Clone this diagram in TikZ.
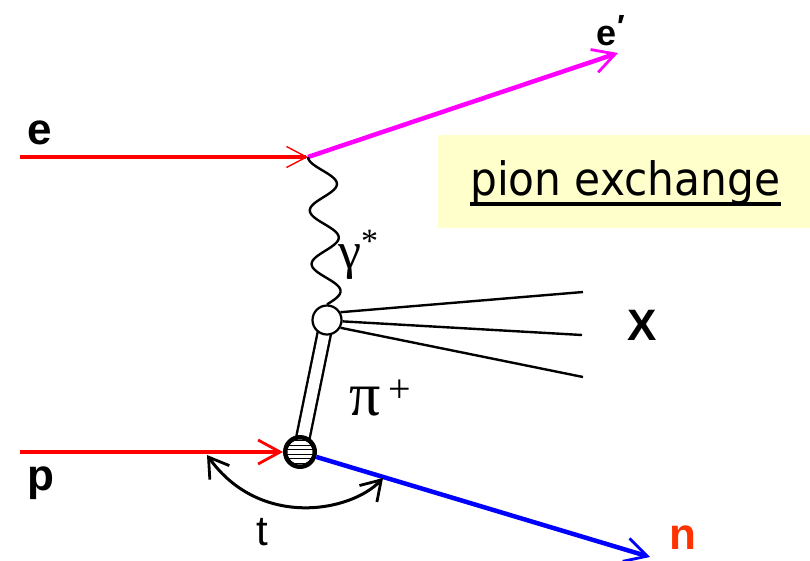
\documentclass[tikz,border=0pt]{standalone}
\usepackage{fontspec}
\setmainfont{Liberation Sans}
\newfontfamily\grk{Liberation Serif}
\newfontfamily\boxfont{DejaVu Sans}
\usetikzlibrary{arrows.meta,calc}
\pgfdeclarelayer{bg}
\pgfsetlayers{bg,main}
\definecolor{eRed}{HTML}{FF0000}
\definecolor{eMag}{HTML}{FF00FF}
\definecolor{nBlue}{HTML}{0000FF}
\definecolor{nOrange}{HTML}{FF3300}
\definecolor{boxYellow}{HTML}{FFFFCC}
\begin{document}
\begin{tikzpicture}[x=1pt,y=-1pt,
  tipthin/.style={-{Straight Barb[length=20pt,width=21pt,line width=1.4pt]}},
  tipthick/.style={-{Straight Barb[length=22pt,width=24pt,line width=2.8pt]}},
  vtx/.style={circle,draw,fill=white,inner sep=0pt},
  lab/.style={anchor=base west,inner sep=0pt,font=\bfseries\fontsize{44}{44}\selectfont},
  hadron/.style={line width=2.4pt},
]
\useasboundingbox (0,0) rectangle (810,560);
% box
\fill[boxYellow] (438,135) rectangle (810,228);
\node[anchor=base west,inner sep=0pt,font=\boxfont\fontsize{46}{46}\selectfont] (ptext) at (470,195) {\scalebox{0.92}[1]{pion exchange}};
\draw[line width=4pt] ($(ptext.base west)+(0,8.5)$) -- ($(ptext.base east)+(0,8.5)$);

% coordinates
\coordinate (estart) at (20,157);
\coordinate (v1) at (308,157);
\coordinate (eout) at (618,53);
\coordinate (pstart) at (20,452);
\coordinate (nout) at (650,557);
\coordinate (x1) at (583,292);
\coordinate (x2) at (582,335);
\coordinate (x3) at (583,377);
\coordinate (tA) at (207,455);
\coordinate (tB) at (383,478);

\node[vtx,line width=2.2pt,minimum size=29pt] (top) at (327,320) {};
\node[vtx,line width=3pt,minimum size=31pt] (bot) at (300,452) {};
\begin{scope}
  \clip (bot.center) circle (14pt);
  \foreach \dy in {-11.25,-6.75,-2.25,2.25,6.75,11.25}
    \draw[line width=1pt] ($(bot.center)+(-16,\dy)$) -- ($(bot.center)+(16,\dy)$);
\end{scope}
\draw[line width=3pt] (bot) circle (14pt);

\begin{pgfonlayer}{bg}
  \draw[line width=2.4pt,double distance=11pt] (top.center) -- (bot.center);
\end{pgfonlayer}

% leptons
\draw[eRed,line width=3.8pt,tipthin] (estart) -- (v1);
\draw[eMag,line width=4.5pt,tipthick] (v1) -- (eout);
\draw[line width=2.4pt,line join=round]
  let \p1=(v1), \p2=(top.north) in
  plot[variable=\t,domain=0:1,samples=160,smooth]
  ({\x1+14pt*(1-cos(990*\t))+(\x2-\x1-14pt)*\t},{\y1+(\y2-\y1)*\t});
% hadrons
\draw[eRed,line width=3.8pt,tipthick] (pstart) -- (bot.west);
\draw[nBlue,line width=4.5pt,tipthick] (bot) -- (nout);
\draw[hadron] (top.30) -- (x1);
\draw[hadron] (top.-5) -- (x2);
\draw[hadron] (top.-30) -- (x3);
% t arc
\draw[line width=3pt,{Straight Barb[length=19pt,width=24pt,line width=2.8pt]}-{Straight Barb[length=19pt,width=24pt,line width=2.8pt]}]
  (tA) .. controls (260,529) and (351,512) .. (tB);

% labels
\node[lab] (le) at (27,144) {e};
\node[lab,font=\bfseries\fontsize{36}{36}\selectfont] (le2) at (596,45) {e\raisebox{8pt}{\fontsize{32}{32}\selectfont\kern1pt′}};
\node[lab] (lp) at (27,490) {p};
\node[lab] (lX) at (627,340) {X};
\node[lab,text=nOrange] (ln) at (669,549) {n};
\node[lab,font=\fontsize{42}{42}\selectfont] (lt) at (256,545) {t};
\node[lab,font=\grk\fontsize{52}{52}\selectfont] (lg) at (338,268) {γ\raisebox{16pt}{\fontsize{34}{34}\selectfont *}};
\node[lab,font=\grk\fontsize{62}{62}\selectfont] (lpi) at (349,415) {π\kern8pt\raisebox{13pt}{\fontsize{40}{40}\selectfont +}};
\end{tikzpicture}
\end{document}
